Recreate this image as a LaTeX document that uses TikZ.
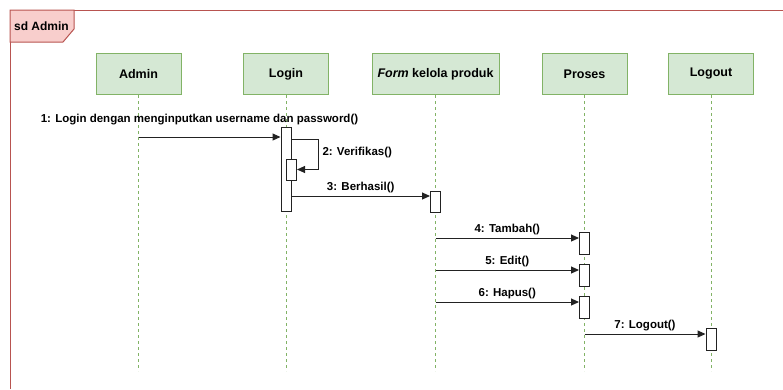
\documentclass[tikz,border=0pt]{standalone}
\usepackage{fontspec}
\setmainfont{Liberation Sans}
\usetikzlibrary{positioning, arrows.meta, calc}
\definecolor{headfill}{HTML}{D5E8D4}
\definecolor{headline}{HTML}{82B366}
\definecolor{tabfill}{HTML}{F8CECC}
\definecolor{tabline}{HTML}{B85450}
\definecolor{ink}{HTML}{222222}

\begin{document}
\begin{tikzpicture}[
  x=1pt, y=-1pt,
  head/.style={draw=headline, line width=1pt, fill=headfill, minimum width=85pt,
               minimum height=41pt, inner sep=0pt, text=black,
               font=\bfseries\fontsize{12.5}{14}\selectfont},
  life/.style={draw=headline, line width=0.8pt, dash pattern=on 3pt off 3pt},
  act/.style={draw=ink, line width=1pt, fill=white, minimum width=10pt, inner sep=0pt},
  msg/.style={-{Triangle[length=8pt, width=7pt]}, draw=ink, line width=1pt},
  lbl/.style={font=\bfseries\fontsize{11.5}{13}\selectfont, text=black, inner sep=2.5pt},
]
\useasboundingbox (0,0) rectangle (783,389);

% ── frame ────────────────────────────────────────────────────────────────────
\draw[tabline, line width=1pt] (10,389) -- (10,10) -- (783,10);
\draw[tabline, line width=1pt, fill=tabfill]
    (10,10) -- (74,10) -- (74,29) -- (63,42) -- (10,42) -- cycle;
\node[lbl, font=\bfseries\fontsize{12}{14}\selectfont] (sd) at (41.5,26) {sd Admin};

% ── lifelines ────────────────────────────────────────────────────────────────
\node[head] (admin) at (138.5,74) {Admin};
\node[head] (login) at (286,74) {Login};
\node[head, minimum width=127pt] (form) at (435.5,74) {\textit{Form} kelola produk};
\node[head] (proses) at (584.5,74) {Proses};
\node[head] (logout) at (711,74) {Logout};

\foreach \n in {admin, login, form, proses, logout}
  \draw[life] (\n.south) -- ++(0,276);

% ── activations ──────────────────────────────────────────────────────────────
\node[act, minimum height=84pt] (a1) at (286,169) {};
\node[act, minimum height=21pt] (a2) at (291.5,169.5) {};
\node[act, minimum height=21pt] (a3) at (435.5,201.5) {};
\node[act, minimum height=22pt] (a4) at (584.5,243) {};
\node[act, minimum height=22pt] (a5) at (584.5,275) {};
\node[act, minimum height=22pt] (a6) at (584.5,307) {};
\node[act, minimum height=22pt] (a7) at (711,339) {};

% ── messages ─────────────────────────────────────────────────────────────────
\coordinate (m1) at (138.5,137);
\draw[msg] (m1) -- (a1.west |- m1)
    node[lbl, midway, above, xshift=-10pt, yshift=9pt]
    {1: Login dengan menginputkan username dan password()};

\coordinate (m2) at ($(a1.north east)+(0,13)$);
\draw[msg] (m2) -- ++(27,0) |- (a2.east)
    node[lbl, pos=0.22, right, xshift=1pt] {2: Verifikas()};

\coordinate (m3) at ($(a1.east)+(0,27)$);
\draw[msg] (m3) -- (a3.west |- m3) node[lbl, midway, above] {3: Berhasil()};

\coordinate (m4) at (435.5,238);
\draw[msg] (m4) -- (a4.west |- m4) node[lbl, midway, above] {4: Tambah()};

\coordinate (m5) at (435.5,270);
\draw[msg] (m5) -- (a5.west |- m5) node[lbl, midway, above] {5: Edit()};

\coordinate (m6) at (435.5,302);
\draw[msg] (m6) -- (a6.west |- m6) node[lbl, midway, above] {6: Hapus()};

\coordinate (m7) at (584.5,334);
\draw[msg] (m7) -- (a7.west |- m7) node[lbl, midway, above] {7: Logout()};

\end{tikzpicture}
\end{document}
